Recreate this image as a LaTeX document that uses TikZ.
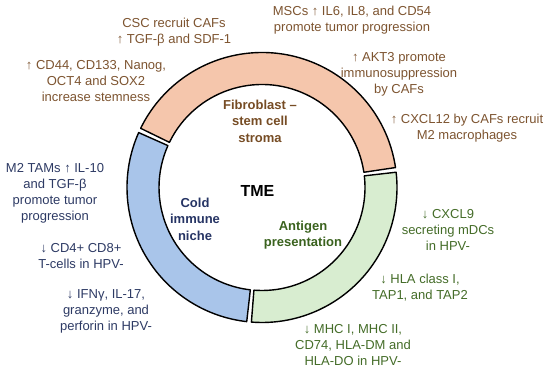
\documentclass[tikz,border=0pt]{standalone}
\usepackage{fontspec}
\setmainfont{Liberation Sans}
\definecolor{ringorange}{RGB}{245,198,172}
\definecolor{ringblue}{RGB}{169,197,234}
\definecolor{ringgreen}{RGB}{216,237,208}
\definecolor{txtbrown}{RGB}{125,84,48}
\definecolor{txtblue}{RGB}{45,58,100}
\definecolor{txtgreen}{RGB}{68,108,40}
\definecolor{lblbrown}{RGB}{118,76,36}
\definecolor{lblblue}{RGB}{38,52,100}
\definecolor{lblgreen}{RGB}{58,98,30}
\begin{document}
\begin{tikzpicture}[x=1pt,y=1pt,
  note/.style={align=center,inner sep=0pt,font=\fontsize{13}{16}\selectfont},
  seglabel/.style={align=center,inner sep=0pt,font=\fontsize{13}{16.5}\selectfont\bfseries},
  segment/.style={draw=black,line width=1.4pt,line join=round}]
\useasboundingbox (0,0) rectangle (550,375);
\coordinate (c) at (262,187.5);
% ring segments
\def\Ro{135}\def\Ri{103}
\draw[segment,fill=ringorange] ([shift={(8.5:\Ro)}]c) arc[start angle=8.5,end angle=154,radius=\Ro]
  -- ([shift={(154:\Ri)}]c) arc[start angle=154,end angle=8.5,radius=\Ri] -- cycle;
\draw[segment,fill=ringblue] ([shift={(156:\Ro)}]c) arc[start angle=156,end angle=263.5,radius=\Ro]
  -- ([shift={(263.5:\Ri)}]c) arc[start angle=263.5,end angle=156,radius=\Ri] -- cycle;
\draw[segment,fill=ringgreen] ([shift={(265.5:\Ro)}]c) arc[start angle=265.5,end angle=366.5,radius=\Ro]
  -- ([shift={(366.5:\Ri)}]c) arc[start angle=366.5,end angle=265.5,radius=\Ri] -- cycle;
% inner labels
\node[font=\fontsize{16}{18}\selectfont\bfseries] (tme) at (257.5,184) {TME};
\node[seglabel,text=lblbrown] (fib) at (260,254) {Fibroblast –\\stem cell\\stroma};
\node[seglabel,text=lblblue] (cold) at (195,156) {Cold\\immune\\niche};
\node[seglabel,text=lblgreen] (ant) at (303,140) {Antigen\\presentation};
% outer notes: fibroblast
\node[note,text=txtbrown] (csc) at (174,343) {CSC recruit CAFs\\↑ TGF-β and SDF-1};
\node[note,text=txtbrown] (cd44) at (96,294) {↑ CD44, CD133, Nanog,\\OCT4 and SOX2\\increase stemness};
\node[note,text=txtbrown] (msc) at (352,355) {MSCs ↑ IL6, IL8, and CD54\\promote tumor progression};
\node[note,text=txtbrown] (akt) at (399,301) {↑ AKT3 promote\\immunosuppression\\by CAFs};
\node[note,text=txtbrown] (cxcl12) at (467,247) {↑ CXCL12 by CAFs recruit\\M2 macrophages};
% outer notes: cold immune niche
\node[note,text=txtblue] (tam) at (55,182) {M2 TAMs ↑ IL-10\\and TGF-β\\promote tumor\\progression};
\node[note,text=txtblue] (cd4) at (81,119) {↓ CD4+ CD8+\\T-cells in HPV-};
\node[note,text=txtblue] (ifn) at (106,64) {↓ IFNγ, IL-17,\\granzyme, and\\perforin in HPV-};
% outer notes: antigen presentation
\node[note,text=txtgreen] (cxcl9) at (448,145) {↓ CXCL9\\secreting mDCs\\in HPV-};
\node[note,text=txtgreen] (hla) at (420,87) {↓ HLA class I,\\TAP1, and TAP2};
\node[note,text=txtgreen] (mhc) at (353,30) {↓ MHC I, MHC II,\\CD74, HLA-DM and\\HLA-DO in HPV-};
\end{tikzpicture}
\end{document}
